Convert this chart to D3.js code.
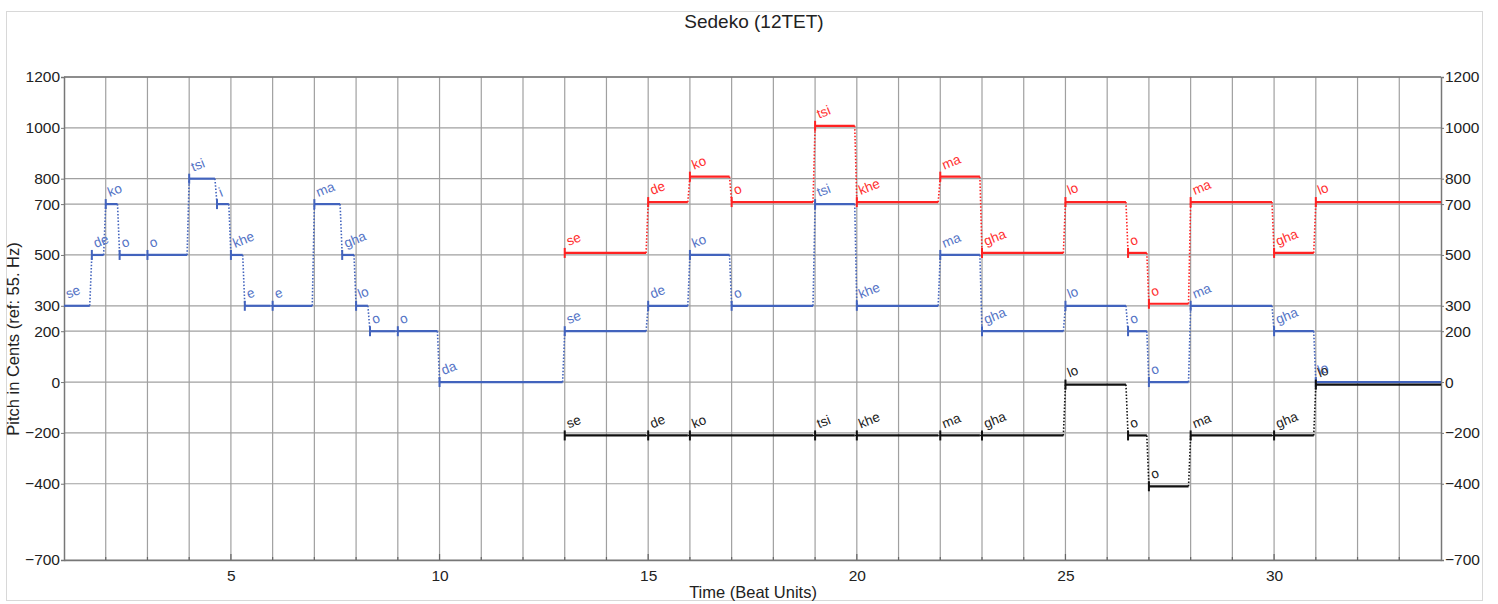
<!DOCTYPE html>
<html><head><meta charset="utf-8">
<script src="https://cdn.jsdelivr.net/npm/d3@7"></script>
<style>
body{margin:0;background:#fff;}
svg{display:block;font-family:"Liberation Sans",Arial,sans-serif;}
</style></head>
<body><svg id="chart" width="1498" height="604"></svg>
<script>
// ---- data ----
const title = "Sedeko (12TET)";
const xLabel = "Time (Beat Units)";
const yLabel = "Pitch in Cents (ref: 55. Hz)";
const yTicks = [1200, 1000, 800, 700, 500, 300, 200, 0, -200, -400, -700];
const xTickLabels = [5, 10, 15, 20, 25, 30];
const timeDomain = [1, 34];
const pitchDomain = [-700, 1200];

const blueStarts = [1, 1.667, 2, 2.333, 3, 4, 4.667, 5, 5.333, 6, 7, 7.667, 8, 8.333, 9, 10, 13, 15, 16, 17, 19, 20, 22, 23, 25, 26.5, 27, 28, 30, 31];
const blueSyllables = ["se","de","ko","o","o","tsi","i","khe","e","e","ma","gha","lo","o","o","da","se","de","ko","o","tsi","khe","ma","gha","lo","o","o","ma","gha","lo"];
const bluePitches = [300,500,700,500,500,800,700,500,300,300,700,500,300,200,200,0,200,300,500,300,700,300,500,200,300,200,0,300,200,0];

const redStarts = [13, 15, 16, 17, 19, 20, 22, 23, 25, 26.5, 27, 28, 30, 31];
const redSyllables = ["se","de","ko","o","tsi","khe","ma","gha","lo","o","o","ma","gha","lo"];
const redPitches = [500,700,800,700,1000,700,800,500,700,500,300,700,500,700];

const blackStarts = [13, 15, 16, 19, 20, 22, 23, 25, 26.5, 27, 28, 30, 31];
const blackSyllables = ["se","de","ko","tsi","khe","ma","gha","lo","o","o","ma","gha","lo"];
const blackPitches = [-200,-200,-200,-200,-200,-200,-200,0,-200,-400,-200,-200,0];

const songEnd = 34;

// ---- layout ----
const W = 1498, H = 604;
const plot = {l: 64, r: 1441, t: 77, b: 560};
const svg = d3.select("#chart");

const x = d3.scaleLinear().domain(timeDomain).range([plot.l, plot.r]);
const y = d3.scaleLinear().domain(pitchDomain).range([plot.b, plot.t]);

// outer border
svg.append("rect").attr("x", 6.5).attr("y", 11.5).attr("width", 1476).attr("height", 589)
  .attr("fill", "none").attr("stroke", "#d8d8d8").attr("stroke-width", 1);

// title
svg.append("text").attr("x", 754).attr("y", 28).attr("text-anchor", "middle")
  .attr("font-size", 19).attr("fill", "#222").text(title);

// grid
const g = svg.append("g");
const xGrid = d3.range(Math.ceil(timeDomain[0]) + 1, timeDomain[1]);
g.selectAll("line.vg").data(xGrid).join("line")
  .attr("x1", d => x(d)).attr("x2", d => x(d)).attr("y1", plot.t).attr("y2", plot.b)
  .attr("stroke", "#a0a0a0").attr("stroke-width", 1.2);
g.selectAll("line.hg").data(yTicks).join("line")
  .attr("x1", plot.l).attr("x2", plot.r).attr("y1", d => y(d)).attr("y2", d => y(d))
  .attr("stroke", "#a0a0a0").attr("stroke-width", 1.2);

// axes
const fmt = d => d < 0 ? "\u2212" + Math.abs(d) : String(d);
const leftAxis = d3.axisLeft(y).tickValues(yTicks).tickFormat(fmt).tickSize(3).tickPadding(1);
const rightAxis = d3.axisRight(y).tickValues(yTicks).tickFormat(fmt).tickSize(3).tickPadding(1);
const bottomAxis = d3.axisBottom(x).tickValues(xTickLabels).tickSize(0).tickPadding(10);

function styleAxis(sel) {
  sel.selectAll("path.domain").attr("stroke", "#777").attr("stroke-width", 1.5);
  sel.selectAll(".tick line").attr("stroke", "#777");
  sel.selectAll("text").attr("font-size", 15.5).attr("fill", "#222")
    .attr("font-family", "Liberation Sans, Arial, sans-serif");
}
svg.append("g").attr("transform", `translate(${plot.l},0)`).call(leftAxis).call(styleAxis);
svg.append("g").attr("transform", `translate(${plot.r},0)`).call(rightAxis).call(styleAxis);
svg.append("g").attr("transform", `translate(0,${plot.b})`).call(bottomAxis).call(styleAxis);
// top frame line
svg.append("line").attr("x1", plot.l).attr("x2", plot.r).attr("y1", plot.t).attr("y2", plot.t)
  .attr("stroke", "#777").attr("stroke-width", 1.5);
// bottom minor ticks (upward)
svg.append("g").selectAll("line").data(d3.range(Math.ceil(timeDomain[0]) + 1, timeDomain[1])).join("line")
  .attr("x1", d => x(d)).attr("x2", d => x(d)).attr("y1", plot.b).attr("y2", d => plot.b - (d % 5 === 0 ? 6 : 3))
  .attr("stroke", "#666").attr("stroke-width", 1.2);

// axis labels
svg.append("text").attr("x", 753).attr("y", 598).attr("text-anchor", "middle")
  .attr("font-size", 16.5).attr("fill", "#222").text(xLabel);
svg.append("text").attr("transform", `translate(19,339) rotate(-90)`)
  .attr("text-anchor", "middle").attr("font-size", 16.5).attr("fill", "#222").text(yLabel);

// ---- series ----
const series = [
  {starts: blueStarts, syl: blueSyllables, pitch: bluePitches, line: "#4263bd", text: "#5574c6", offset: 0},
  {starts: blackStarts, syl: blackSyllables, pitch: blackPitches, line: "#111", text: "#222", offset: -10},
  {starts: redStarts, syl: redSyllables, pitch: redPitches, line: "#ff2222", text: "#ff3030", offset: 8},
];
const gap = 0.05;

series.forEach(s => {
  const notes = s.starts.map((st, i) => {
    const next = i < s.starts.length - 1 ? s.starts[i + 1] : songEnd;
    const end = i < s.starts.length - 1 ? next - gap : songEnd;
    return {start: st, end: end, next: i < s.starts.length - 1 ? i + 1 : -1,
            p: s.pitch[i] + s.offset, syl: s.syl[i]};
  });
  const sg = svg.append("g");
  // dotted connectors
  sg.selectAll("line.conn").data(notes.filter(n => n.next >= 0)).join("line")
    .attr("x1", n => x(n.end)).attr("y1", n => y(n.p))
    .attr("x2", n => x(notes[n.next].start)).attr("y2", n => y(notes[n.next].p))
    .attr("stroke", s.line).attr("stroke-width", 1.6).attr("stroke-dasharray", "1.5,1.8");
  // note segments
  sg.selectAll("line.note").data(notes).join("line")
    .attr("x1", n => x(n.start)).attr("x2", n => x(n.end))
    .attr("y1", n => y(n.p)).attr("y2", n => y(n.p))
    .attr("stroke", s.line).attr("stroke-width", 2.2);
  // start ticks
  sg.selectAll("line.tick").data(notes.filter(n => n.start > timeDomain[0])).join("line")
    .attr("x1", n => x(n.start)).attr("x2", n => x(n.start))
    .attr("y1", n => y(n.p) - 5).attr("y2", n => y(n.p) + 5)
    .attr("stroke", s.line).attr("stroke-width", 2);
  // labels
  sg.selectAll("text").data(notes).join("text")
    .attr("transform", n => `translate(${x(n.start) + 4},${y(n.p) - 7}) rotate(-22)`)
    .attr("font-size", 13.5).attr("fill", s.text).text(n => n.syl);
});
</script></body></html>
